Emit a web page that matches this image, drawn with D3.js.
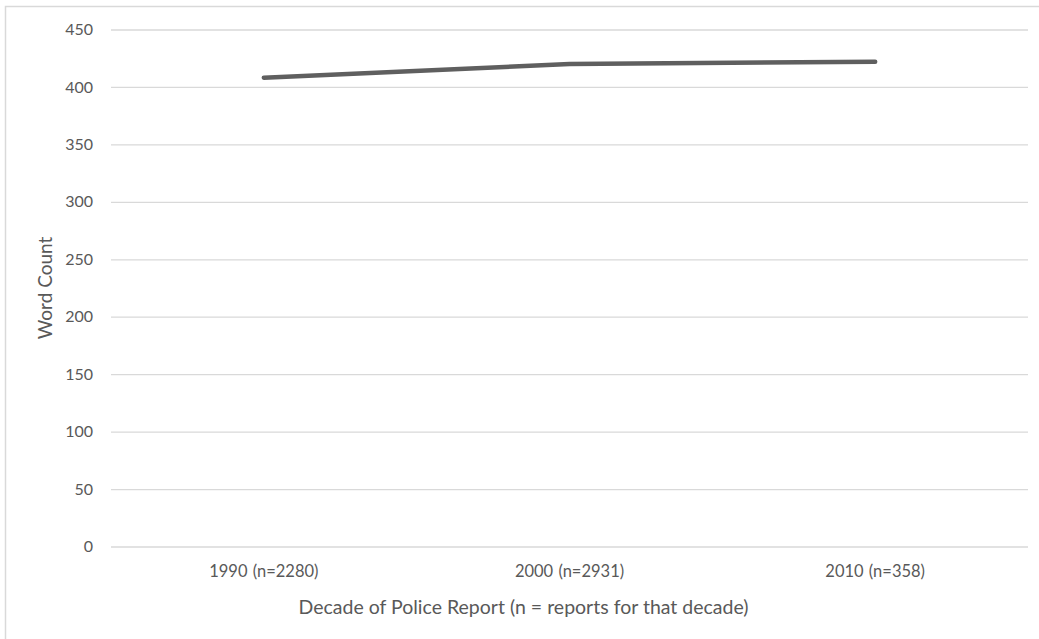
<!DOCTYPE html>
<html>
<head>
<meta charset="utf-8">
<script src="https://cdn.jsdelivr.net/npm/d3@7"></script>
<style>
  html, body { margin: 0; padding: 0; background: #fff; }
  svg { display: block; }
  text { font-family: Lato, "Open Sans", sans-serif; fill: #595959; }
</style>
</head>
<body>
<svg id="chart" width="1039" height="639"></svg>
<script>
// Average word count per police report, by decade
const decades = ["1990 (n=2280)", "2000 (n=2931)", "2010 (n=358)"];
const wordCounts = [408, 420, 422];
const yTicks = [0, 50, 100, 150, 200, 250, 300, 350, 400, 450];
const xTitle = "Decade of Police Report (n = reports for that decade)";
const yTitle = "Word Count";

const W = 1039, H = 639;
const plot = { left: 111, right: 1028, top: 29.5, bottom: 546.5 };
const font = "Lato, 'Open Sans', sans-serif";

const svg = d3.select("#chart");

// chart frame (only its left and top edges fall inside the view)
svg.append("rect")
  .attr("x", 5.5).attr("y", 6.5)
  .attr("width", W + 10).attr("height", H + 10)
  .attr("fill", "none").attr("stroke", "#d9d9d9").attr("stroke-width", 1.5);

const x = d3.scaleBand().domain(decades).range([plot.left, plot.right]).padding(0);
const y = d3.scaleLinear().domain([0, 450]).range([plot.bottom, plot.top]);

// horizontal gridlines + y tick labels
const yAxis = d3.axisLeft(y).tickValues(yTicks).tickSize(-(plot.right - plot.left)).tickPadding(18);
const gy = svg.append("g").attr("transform", `translate(${plot.left},0)`).call(yAxis);
gy.select(".domain").remove();
gy.selectAll(".tick line").attr("stroke", "#d9d9d9").attr("stroke-width", 1.3);
gy.selectAll(".tick text").attr("font-size", 16).attr("fill", "#595959")
  .style("font-family", font);

// x category labels
const xAxis = d3.axisBottom(x).tickSize(0).tickPadding(19);
const gx = svg.append("g").attr("transform", `translate(0,${plot.bottom})`).call(xAxis);
gx.select(".domain").remove();
gx.selectAll(".tick text").attr("font-size", 16.5).attr("fill", "#595959")
  .style("font-family", font).style("word-spacing", "1px");

// data line
const line = d3.line()
  .x((d, i) => x(decades[i]) + x.bandwidth() / 2)
  .y(d => y(d));
svg.append("path")
  .datum(wordCounts)
  .attr("d", line)
  .attr("fill", "none")
  .attr("stroke", "#5f5f5f")
  .attr("stroke-width", 4.5)
  .attr("stroke-linecap", "round")
  .attr("stroke-linejoin", "round");

// axis titles
svg.append("text")
  .attr("x", 523.5)
  .attr("y", 614)
  .attr("text-anchor", "middle")
  .attr("font-size", 19.5)
  .text(xTitle);

svg.append("text")
  .attr("transform", `translate(52,288) rotate(-90)`)
  .attr("text-anchor", "middle")
  .attr("font-size", 19)
  .text(yTitle);
</script>
</body>
</html>
